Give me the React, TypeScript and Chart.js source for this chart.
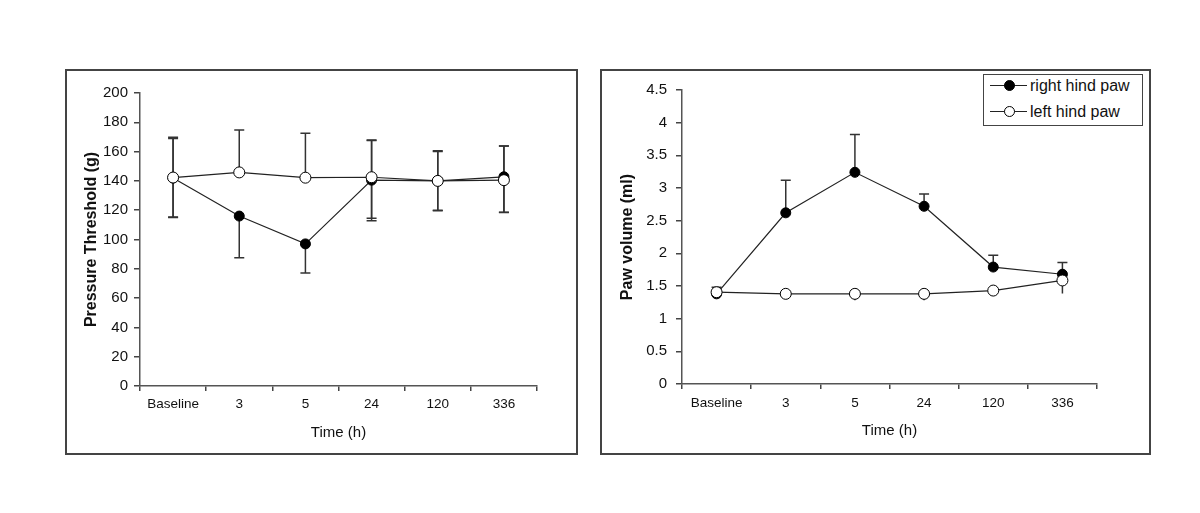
import React, { useEffect, useRef } from 'react';
import { Chart, registerables } from 'chart.js';

Chart.register(...registerables);

const FONT = '"Liberation Sans", Arial, Helvetica, sans-serif';

// ---- data ----
const categories = ['Baseline', '3', '5', '24', '120', '336'];

// Panel 1: Pressure Threshold (g)
const ptRightPaw = [142, 116, 97, 140.5, 140, 142.8];
const ptRightErrUp = [27, 0, 0, 27, 20, 21];
const ptRightErrDown = [27, 28.4, 19.8, 27.7, 20.4, 24.2];
const ptLeftPaw = [142.3, 145.8, 142.2, 142.5, 140, 140.5];
const ptLeftErrUp = [27.5, 28.9, 30.3, 25.4, 20.6, 23.3];
const ptLeftErrDown = [27, 0, 0, 28, 20, 22];
const ptTicks = [0, 20, 40, 60, 80, 100, 120, 140, 160, 180, 200];

// Panel 2: Paw volume (ml)
const pvRightPaw = [1.38, 2.62, 3.24, 2.72, 1.79, 1.68];
const pvRightErrUp = [0.1, 0.5, 0.58, 0.19, 0.18, 0.18];
const pvRightErrDown = [0, 0, 0, 0, 0, 0];
const pvLeftPaw = [1.405, 1.38, 1.38, 1.38, 1.43, 1.585];
const pvLeftErrUp = [0, 0, 0, 0, 0, 0];
const pvLeftErrDown = [0.04, 0.04, 0.1, 0.1, 0.08, 0.2];
const pvTicks = [0, 0.5, 1, 1.5, 2, 2.5, 3, 3.5, 4, 4.5];

const seriesNames = ['right hind paw', 'left hind paw'];

const errorBarPlugin = {
  id: 'errorBars',
  beforeDatasetsDraw(chart: any) {
    const ctx = chart.ctx;
    const yScale = chart.scales.y;
    chart.data.datasets.forEach((ds: any, i: number) => {
      const meta = chart.getDatasetMeta(i);
      const up = ds.errUp || [];
      const down = ds.errDown || [];
      const capUp = ds.capUp ?? 5;
      const capDown = ds.capDown ?? 5;
      ctx.save();
      ctx.strokeStyle = '#333';
      ctx.lineWidth = 1.5;
      meta.data.forEach((pt: any, j: number) => {
        const v = ds.data[j];
        const x = pt.x;
        const draw = (e: number, cap: number) => {
          if (!e) return;
          const y0 = yScale.getPixelForValue(v);
          const y1 = yScale.getPixelForValue(v + e);
          ctx.beginPath();
          ctx.moveTo(x, y0);
          ctx.lineTo(x, y1);
          if (cap) {
            ctx.moveTo(x - cap, y1);
            ctx.lineTo(x + cap, y1);
          }
          ctx.stroke();
        };
        draw(up[j] || 0, capUp);
        draw(down[j] ? -down[j] : 0, capDown);
      });
      ctx.restore();
    });
  },
};

type PanelProps = {
  width: number;
  height: number;
  rightData: number[];
  rightUp: number[];
  rightDown: number[];
  leftData: number[];
  leftUp: number[];
  leftDown: number[];
  leftCapDown: number;
  ticks: number[];
  yMax: number;
  yStep: number;
  yTitle: string;
  padding: { top: number; right: number; left: number; bottom: number };
  yWidth: number;
  xHeight: number;
  yTitlePad: number;
  yTickPad: number;
  xTickPad: number;
  xTitlePad: number;
};

function Panel(p: PanelProps) {
  const ref = useRef<HTMLCanvasElement | null>(null);
  useEffect(() => {
    if (!ref.current) return;
    const chart = new Chart(ref.current, {
      type: 'line',
      data: {
        labels: categories,
        datasets: [
          {
            label: seriesNames[0],
            data: p.rightData,
            borderColor: '#222',
            borderWidth: 1.2,
            pointBackgroundColor: '#000',
            pointBorderColor: '#000',
            pointBorderWidth: 1,
            pointRadius: 5,
            tension: 0,
            order: 2,
            errUp: p.rightUp,
            errDown: p.rightDown,
            capUp: 5,
            capDown: 5,
          } as any,
          {
            label: seriesNames[1],
            data: p.leftData,
            borderColor: '#222',
            borderWidth: 1.2,
            pointBackgroundColor: '#fff',
            pointBorderColor: '#000',
            pointBorderWidth: 1,
            pointRadius: 5.5,
            tension: 0,
            order: 1,
            errUp: p.leftUp,
            errDown: p.leftDown,
            capUp: 5,
            capDown: p.leftCapDown,
          } as any,
        ],
      },
      options: {
        animation: false,
        responsive: false,
        maintainAspectRatio: false,
        layout: { padding: p.padding },
        plugins: {
          legend: { display: false },
          tooltip: { enabled: false },
        },
        scales: {
          x: {
            type: 'category',
            offset: true,
            grid: {
              offset: true,
              display: true,
              drawOnChartArea: false,
              drawTicks: true,
              tickLength: 5,
              color: '#444',
              lineWidth: 1.5,
            },
            border: { display: true, color: '#555', width: 1.5 },
            ticks: {
              color: '#111',
              font: { family: FONT, size: 13.5 },
              padding: p.xTickPad,
              maxRotation: 0,
              autoSkip: false,
            },
            title: {
              display: true,
              text: 'Time (h)',
              color: '#111',
              font: { family: FONT, size: 15 },
              padding: { top: 0, bottom: p.xTitlePad },
            },
            afterFit: (scale: any) => {
              scale.height = p.xHeight;
            },
          },
          y: {
            min: 0,
            max: p.yMax,
            afterBuildTicks: (scale: any) => {
              scale.ticks = p.ticks.map((v) => ({ value: v }));
            },
            grid: {
              display: true,
              drawOnChartArea: false,
              drawTicks: true,
              tickLength: 6,
              color: '#444',
              lineWidth: 1.5,
            },
            border: { display: true, color: '#555', width: 1.5 },
            ticks: {
              color: '#111',
              font: { family: FONT, size: 15 },
              padding: p.yTickPad,
              stepSize: p.yStep,
              callback: (v: any) => String(Number(v)),
            },
            title: {
              display: true,
              text: p.yTitle,
              color: '#111',
              font: { family: FONT, size: 16, weight: 'bold' },
              padding: { top: p.yTitlePad, bottom: 0 },
            },
            afterFit: (scale: any) => {
              scale.width = p.yWidth;
            },
          },
        },
      } as any,
      plugins: [errorBarPlugin],
    });
    return () => chart.destroy();
  }, []);
  return (
    <canvas
      ref={ref}
      width={p.width}
      height={p.height}
      style={{ display: 'block', width: p.width, height: p.height }}
    />
  );
}

export default function App() {
  return (
    <div
      style={{
        position: 'fixed',
        left: 0,
        top: 0,
        width: 1200,
        height: 513,
        background: '#fff',
        fontFamily: FONT,
        overflow: 'hidden',
      }}
    >
      <div
        style={{
          position: 'absolute',
          left: 65,
          top: 69,
          width: 513,
          height: 386,
          border: '2px solid #444',
          boxSizing: 'border-box',
        }}
      >
        <Panel
          width={509}
          height={382}
          rightData={ptRightPaw}
          rightUp={ptRightErrUp}
          rightDown={ptRightErrDown}
          leftData={ptLeftPaw}
          leftUp={ptLeftErrUp}
          leftDown={ptLeftErrDown}
          leftCapDown={5}
          ticks={ptTicks}
          yMax={200}
          yStep={20}
          yTitle="Pressure Threshold (g)"
          padding={{ top: 22, right: 39, left: 0, bottom: 0 }}
          yWidth={73}
          xHeight={67}
          yTitlePad={15}
          yTickPad={6}
          xTickPad={5}
          xTitlePad={11}
        />
      </div>
      <div
        style={{
          position: 'absolute',
          left: 600,
          top: 69,
          width: 551,
          height: 386,
          border: '2px solid #444',
          boxSizing: 'border-box',
        }}
      >
        <Panel
          width={547}
          height={382}
          rightData={pvRightPaw}
          rightUp={pvRightErrUp}
          rightDown={pvRightErrDown}
          leftData={pvLeftPaw}
          leftUp={pvLeftErrUp}
          leftDown={pvLeftErrDown}
          leftCapDown={0}
          ticks={pvTicks}
          yMax={4.5}
          yStep={0.5}
          yTitle="Paw volume (ml)"
          padding={{ top: 19, right: 52, left: 0, bottom: 0 }}
          yWidth={80}
          xHeight={69}
          yTitlePad={16}
          yTickPad={9}
          xTickPad={6}
          xTitlePad={13}
        />
      </div>
      {/* legend */}
      <div
        style={{
          position: 'absolute',
          left: 983,
          top: 74,
          width: 160,
          height: 52,
          border: '1.5px solid #444',
          boxSizing: 'border-box',
          background: '#fff',
        }}
      />
      {seriesNames.map((name, i) => {
        const cy = i === 0 ? 85.5 : 111.5;
        return (
          <React.Fragment key={name}>
            <div
              style={{
                position: 'absolute',
                left: 990,
                top: cy - 0.6,
                width: 37,
                height: 1.2,
                background: '#222',
              }}
            />
            <div
              style={{
                position: 'absolute',
                left: 1009 - 5.5,
                top: cy - 5.5,
                width: 11,
                height: 11,
                borderRadius: '50%',
                background: i === 0 ? '#000' : '#fff',
                border: '1px solid #000',
                boxSizing: 'border-box',
              }}
            />
            <div
              style={{
                position: 'absolute',
                left: 1030,
                top: cy - 10,
                height: 20,
                lineHeight: '20px',
                fontSize: 16,
                color: '#111',
                whiteSpace: 'nowrap',
              }}
            >
              {name}
            </div>
          </React.Fragment>
        );
      })}
    </div>
  );
}
